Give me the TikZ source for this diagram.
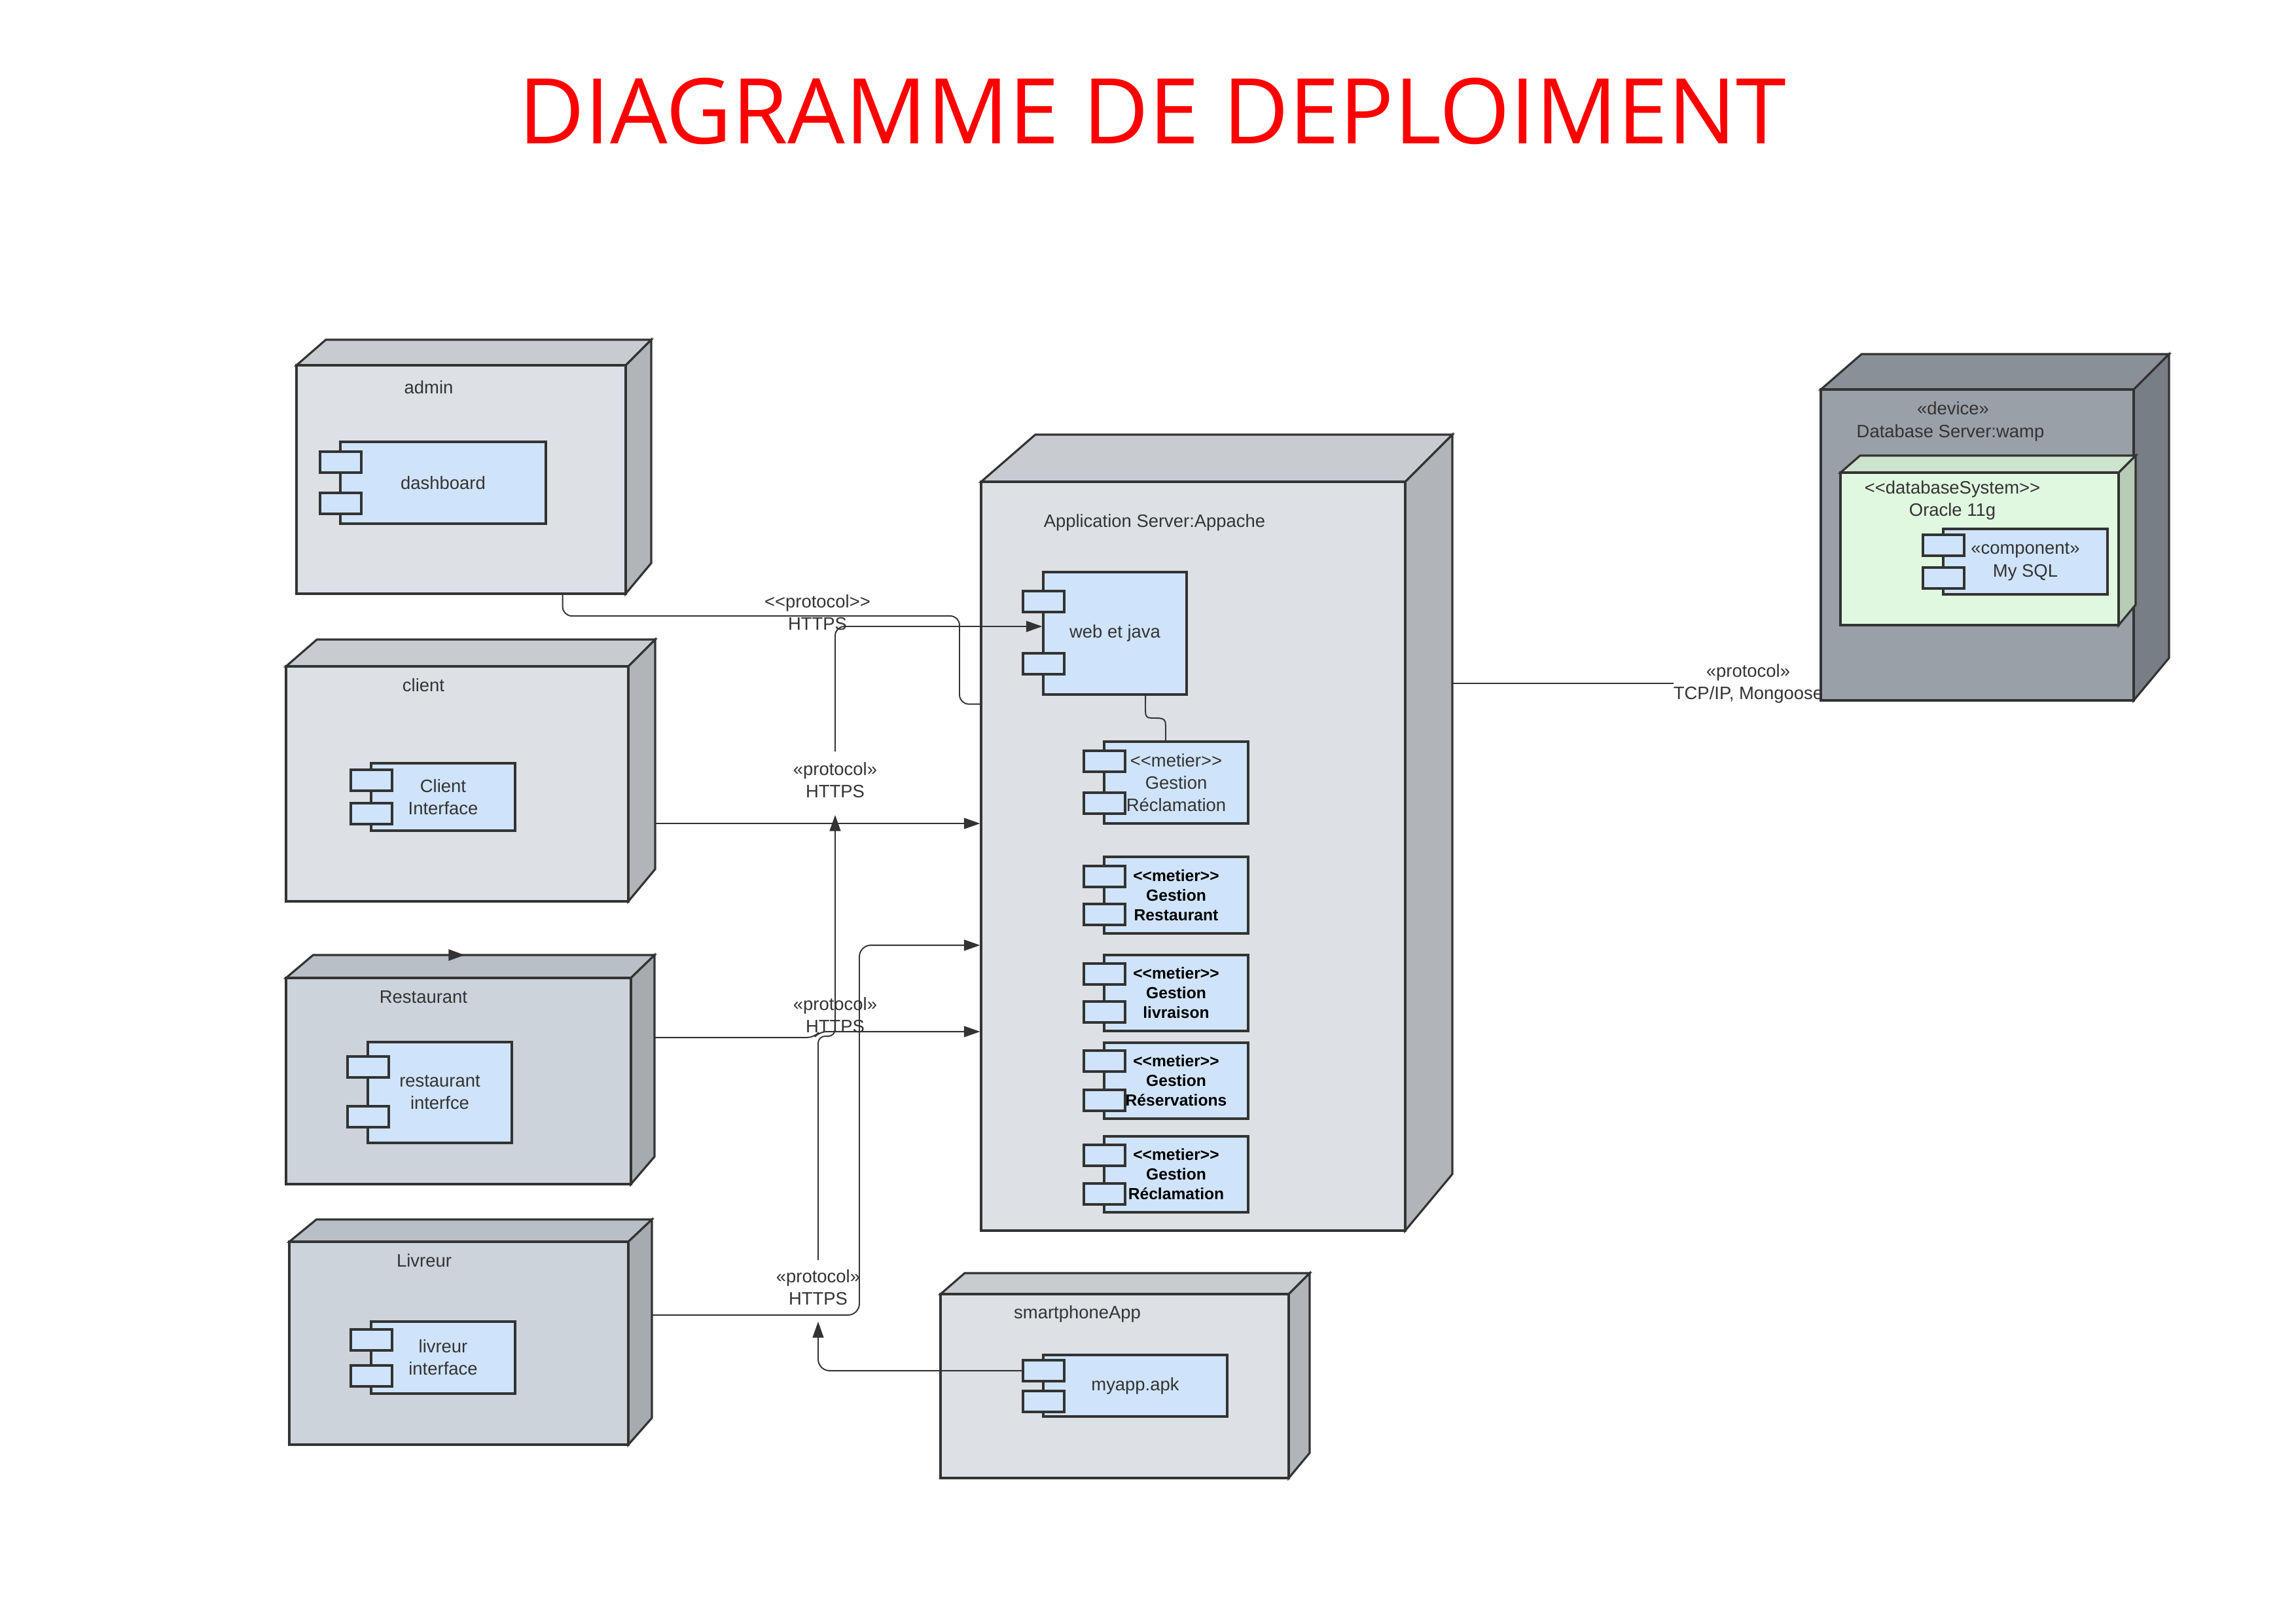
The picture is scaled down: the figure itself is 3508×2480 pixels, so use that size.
\documentclass[tikz,border=0pt]{standalone}
\usepackage{fontspec}
\setmainfont{Liberation Sans}[Ligatures=TeXOff]
\newfontfamily\titlefont{Open Sans}
\usetikzlibrary{arrows.meta,fit}
\definecolor{ink}{HTML}{333333}
\definecolor{lfront}{HTML}{DDE1E6}
\definecolor{ltop}{HTML}{C8CCD1}
\definecolor{lside}{HTML}{B1B5BA}
\definecolor{mfront}{HTML}{CDD3DA}
\definecolor{mtop}{HTML}{B9BFC6}
\definecolor{mside}{HTML}{A6ABB0}
\definecolor{dfront}{HTML}{9AA0A8}
\definecolor{dtop}{HTML}{8A9097}
\definecolor{dside}{HTML}{787E86}
\definecolor{gfront}{HTML}{E0F8E0}
\definecolor{gtop}{HTML}{CDE3CD}
\definecolor{gside}{HTML}{B7CBB7}
\definecolor{compfill}{HTML}{CFE4FA}
\tikzset{
  edge/.style={draw=ink, line width=0.9pt, line join=miter},
  conn/.style={draw=ink, line width=0.55pt},
  arr/.style={conn, -{Triangle[length=7pt,width=4.8pt]}},
  lbl/.style={text=ink, font=\fontsize{7.8}{9.7}\selectfont, align=center, inner sep=0pt},
  boldlbl/.style={text=black, font=\bfseries\fontsize{7}{8.5}\selectfont, align=center, inner sep=0pt},
  comp/.style={draw=ink, line width=0.9pt, fill=compfill, inner sep=0pt},
}
% 3D deployment node: name, x1, y1, x2, y2, dx, dy, colour prefix
\newcommand{\cube}[8]{%
  \filldraw[edge, fill=#8top] (#2,#3) -- (#2+1.15*#6,#3-#7) -- (#4+#6,#3-#7) -- (#4,#3) -- cycle;
  \filldraw[edge, fill=#8side] (#4,#3) -- (#4+#6,#3-#7) -- (#4+#6,#5-1.2*#7) -- (#4,#5) -- cycle;
  \path (#2,#3) coordinate (#1-nw) (#4,#5) coordinate (#1-se);
  \node[edge, fill=#8front, fit=(#1-nw)(#1-se), inner sep=0pt] (#1) {};
}
% UML component: name, x1, y1, x2, y2, port1 top, port2 top
\newcommand{\comp}[7]{%
  \path (#2,#3) coordinate (#1-nw) (#4,#5) coordinate (#1-se);
  \node[comp, fit=(#1-nw)(#1-se)] (#1) {};
  \path (#2-31,#6) coordinate (#1-a1) (#2+32,#6+32) coordinate (#1-a2)
        (#2-31,#7) coordinate (#1-b1) (#2+32,#7+32) coordinate (#1-b2);
  \node[comp, fit=(#1-a1)(#1-a2)] (#1-p1) {};
  \node[comp, fit=(#1-b1)(#1-b2)] (#1-p2) {};
}
\begin{document}
\begin{tikzpicture}[x=0.01cm, y=-0.01cm]
\useasboundingbox (0,0) rectangle (3508,2480);
\fill[white] (0,0) rectangle (3508,2480);

\node[text=red, font=\titlefont\fontsize{39.4}{47}\selectfont, inner sep=0pt] (title) at (1761,170) {DIAGRAMME DE DEPLOIMENT};

% label partly hidden by the database node
\node[lbl] (lab5) at (2671,1044) {«protocol»\\TCP/IP, Mongoose};

% nodes
\cube{admin}{453}{558}{956}{907}{39}{39}{l}
\cube{client}{437}{1018}{960}{1377}{41}{41}{l}
\cube{rest}{437}{1494}{964}{1809}{36}{35}{m}
\cube{livreur}{442}{1897}{960}{2207}{36}{34}{m}
\cube{app}{1499}{736}{2147}{1880}{72}{72}{l}
\cube{phone}{1437}{1977}{1969}{2258}{32}{32}{l}
\cube{db}{2782}{595}{3260}{1070}{54}{54}{d}
\cube{dbsys}{2812}{722}{3237}{955}{26}{26}{g}

% node titles
\node[lbl] (admin-l) at (655,592) {admin};
\node[lbl] (client-l) at (647,1047) {client};
\node[lbl] (rest-l) at (647,1523) {Restaurant};
\node[lbl] (liv-l) at (648,1926) {Livreur};
\node[lbl] (app-l) at (1764,798) {Application Server:Appache};
\node[lbl] (phone-l) at (1646,2007) {smartphoneApp};
\node[lbl] (db-l1) at (2984,624) {«device»};
\node[lbl] (db-l2) at (2980,661) {Database Server:wamp};
\node[lbl] (dbsys-l) at (2983,764) {<<databaseSystem>>\\Oracle 11g};

% components
\comp{dash}{520}{675}{834}{800}{690}{753}
\comp{cli}{567}{1166}{787}{1269}{1176}{1227}
\comp{resti}{562}{1592}{782}{1746}{1614}{1690}
\comp{livi}{567}{2019}{787}{2129}{2031}{2086}
\comp{web}{1594}{874}{1813}{1061}{903}{998}
\comp{m1}{1687}{1133}{1907}{1258}{1147}{1211}
\comp{m2}{1687}{1309}{1907}{1426}{1323}{1381}
\comp{m3}{1687}{1459}{1907}{1575}{1472}{1530}
\comp{m4}{1687}{1593}{1907}{1709}{1605}{1665}
\comp{m5}{1687}{1736}{1907}{1852}{1749}{1808}
\comp{sql}{2969}{808}{3220}{908}{817}{867}
\comp{apk}{1594}{2070}{1875}{2164}{2078}{2125}

\node[lbl] (dash-t) at (dash) {dashboard};
\node[lbl] (cli-t) at (cli) {Client\\Interface};
\node[lbl] (resti-t) at (resti) {restaurant\\interfce};
\node[lbl] (livi-t) at (livi) {livreur\\interface};
\node[lbl] (web-t) at (web) {web et java};
\node[lbl] (m1-t) at (m1) {<<metier>>\\Gestion\\Réclamation};
\node[boldlbl] (m2-t) at (m2) {<<metier>>\\Gestion\\Restaurant};
\node[boldlbl] (m3-t) at (m3) {<<metier>>\\Gestion\\livraison};
\node[boldlbl] (m4-t) at (m4) {<<metier>>\\Gestion\\Réservations};
\node[boldlbl] (m5-t) at (m5) {<<metier>>\\Gestion\\Réclamation};
\node[lbl] (sql-t) at (sql) {«component»\\My SQL};
\node[lbl] (apk-t) at (apk) {myapp.apk};

% connector labels
\node[lbl] (lab1) at (1249,936) {<<protocol>>\\HTTPS};
\node[lbl] (lab2) at (1276,1192) {«protocol»\\HTTPS};
\node[lbl] (lab3) at (1276,1551) {«protocol»\\HTTPS};
\node[lbl] (lab4) at (1250,1967) {«protocol»\\HTTPS};

% connectors
\draw[conn, rounded corners=4pt] ([xshift=4.08cm]admin.south west) |- (1466,941) |- ([yshift=-3.41cm]app.north west);
\coordinate (jC) at (1276,1148);
\draw[arr, rounded corners=4pt] (jC) |- ([yshift=0.105cm]web.west);
\coordinate (pCli) at (1001,1258);
\draw[arr] (pCli) -- (app.west |- pCli);
\coordinate (jB1) at (1250,1925);
\coordinate (jB2) at (1276,1245);
\draw[arr, rounded corners=3pt] (jB1) -- (1250,1583) -- (1276,1583) -- (jB2);
\coordinate (pRest) at (1000,1585);
\coordinate (yR) at (0,1576);
\draw[arr, rounded corners=3pt] (pRest) -- (1244,1585) -- (1252,1576) -- (app.west |- yR);
\coordinate (pLiv) at (996,2009);
\coordinate (yL) at (0,1444);
\draw[arr, rounded corners=5pt] (pLiv) -| (1313,1444) -- (app.west |- yL);
\coordinate (jP) at (1250,2019);
\draw[arr, rounded corners=5pt] (apk-p1.west) -| (jP);
\draw[conn] ([xshift=0.465cm]web.south) -- (1750,1083) .. controls (1750,1097) and (1752,1097) .. (1766,1097) .. controls (1780,1097) and (1781,1100) .. (1781,1112) -- ([xshift=-0.16cm]m1.north);
\coordinate (pApp) at (2219,1044);
\coordinate (pDB) at (2557,1044);
\draw[conn] (pApp) -- (pDB);
% stray arrowhead on the Restaurant node
\coordinate (sa1) at (686,1459);
\coordinate (sa2) at (710,1459);
\draw[arr, line width=0.9pt] (sa1) -- (sa2);
\end{tikzpicture}
\end{document}
